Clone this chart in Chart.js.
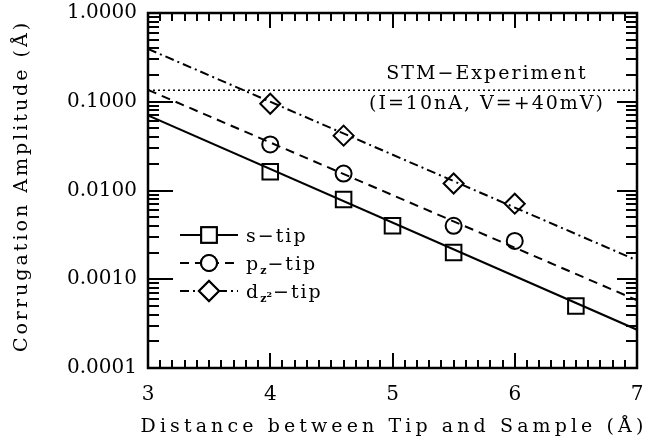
<!DOCTYPE html>
<html>
<head>
<meta charset="utf-8">
<script src="https://cdn.jsdelivr.net/npm/chart.js@4.4.0/dist/chart.umd.min.js"></script>
<style>
  html, body { margin: 0; background: #fff; }
  #wrap { width: 650px; height: 440px; }
</style>
</head>
<body>
<div id="wrap"><canvas id="chart"></canvas></div>
<script>
// measured points (distance in A, corrugation in A)
const sDist = [4.0, 4.6, 5.0, 5.5, 6.5];
const sAmp = [0.0163, 0.0079, 0.0040, 0.0020, 0.0005];
const pDist = [4.0, 4.6, 5.5, 6.0];
const pAmp = [0.033, 0.0155, 0.0040, 0.0027];
const dDist = [4.0, 4.6, 5.5, 6.0];
const dAmp = [0.095, 0.0415, 0.012, 0.0071];

// fitted lines, end points
const fitDist = [3, 7];
const sFit = [0.070, 0.00027];
const pFit = [0.136, 0.00058];
const dFit = [0.394, 0.00163];

const stmLevel = 0.135;
const stmText = ['STM\u2212Experiment', '(I=10nA, V=+40mV)'];

const xTicks = [3, 4, 5, 6, 7];
const yTicks = [0.0001, 0.001, 0.01, 0.1, 1];
const xTitle = 'Distance between Tip and Sample (\u00c5)';
const yTitle = 'Corrugation Amplitude (\u00c5)';

const FONT = "'DejaVu Serif', serif";

function pts(xs, ys) {
  return xs.map((x, i) => ({ x: x, y: ys[i] }));
}

// legend entries
const legendItems = [
  { base: 's', sub: '', sup: '', dash: [], style: 'rect', r: 11 },
  { base: 'p', sub: 'z', sup: '', dash: [9, 6], style: 'circle', r: 8 },
  { base: 'd', sub: 'z', sup: '2', dash: [9, 4, 2, 4], style: 'rectRot', r: 10 }
];

const framePlugin = {
  id: 'frame',
  afterDraw(chart) {
    const ctx = chart.ctx;
    const a = chart.chartArea;
    const xs = chart.scales.x, ys = chart.scales.y;
    const L = Math.round(a.left), R = Math.round(a.right);
    const T = Math.round(a.top), B = Math.round(a.bottom);
    ctx.save();
    ctx.setLineDash([]);
    ctx.globalAlpha = 1;
    ctx.fillStyle = '#000';
    // x ticks (major every 1, minor every 0.1), inward on bottom and top
    for (let i = 30; i <= 70; i++) {
      const px = Math.round(xs.getPixelForValue(i / 10));
      const len = (i % 10 === 0) ? 15 : 8;
      ctx.fillRect(px - 1, B - len, 2, len);
      ctx.fillRect(px - 1, T, 2, len);
    }
    // y ticks (log, major per decade), inward on left and right
    for (let e = -4; e <= 0; e++) {
      for (let m = 1; m <= 9; m++) {
        const v = m * Math.pow(10, e);
        if (v > 1.0001) break;
        const py = Math.round(ys.getPixelForValue(v));
        const lenL = m === 1 ? 25 : 11;
        const lenR = m === 1 ? 20 : 11;
        ctx.fillRect(L, py - 1, lenL, 2);
        ctx.fillRect(R - lenR, py - 1, lenR, 2);
      }
    }
    ctx.strokeStyle = '#000';
    ctx.lineWidth = 2.5;
    ctx.strokeRect(a.left, a.top, a.right - a.left, a.bottom - a.top);

    ctx.font = '19px ' + FONT;
    ctx.textAlign = 'center';
    ctx.textBaseline = 'middle';

    // axis titles
    ctx.letterSpacing = '4.1px';
    ctx.fillText(xTitle, 394, 427);
    ctx.save();
    ctx.translate(22, 186);
    ctx.rotate(-Math.PI / 2);
    ctx.letterSpacing = '3px';
    ctx.fillText(yTitle, 0, 0);
    ctx.restore();

    // STM annotation
    ctx.letterSpacing = '2px';
    const ly = ys.getPixelForValue(stmLevel);
    ctx.fillText(stmText[0], 487, ly - 16);
    ctx.fillText(stmText[1], 487, ly + 14);

    // legend
    const lx0 = 180, lx1 = 238, mx = 209;
    ctx.lineWidth = 2;
    legendItems.forEach((it, i) => {
      const y = 235 + i * 28;
      ctx.setLineDash(it.dash);
      ctx.beginPath();
      ctx.moveTo(lx0, y);
      ctx.lineTo(lx1, y);
      ctx.stroke();
      ctx.setLineDash([]);
      ctx.fillStyle = '#fff';
      Chart.helpers.drawPoint(ctx, { pointStyle: it.style, radius: it.r, borderWidth: 2 }, mx, y);
      ctx.fill();
      ctx.stroke();
      ctx.fillStyle = '#000';
      ctx.textAlign = 'left';
      ctx.textBaseline = 'alphabetic';
      ctx.letterSpacing = '2px';
      let tx = 246;
      const base = y + 7;
      ctx.font = '19px ' + FONT;
      ctx.fillText(it.base, tx, base);
      tx += ctx.measureText(it.base).width;
      if (it.sub) {
        ctx.font = 'bold 11px ' + FONT;
        ctx.letterSpacing = '0px';
        ctx.fillText(it.sub, tx, base + 4);
        tx += ctx.measureText(it.sub).width;
        if (it.sup) {
          ctx.font = 'bold 8px ' + FONT;
          ctx.fillText(it.sup, tx, base - 1);
          tx += ctx.measureText(it.sup).width;
        }
        tx += 1;
      }
      ctx.letterSpacing = '2px';
      ctx.font = '19px ' + FONT;
      ctx.fillText('\u2212tip', tx, base);
    });
    ctx.letterSpacing = '0px';
    ctx.restore();
  }
};

new Chart(document.getElementById('chart'), {
  type: 'scatter',
  data: {
    datasets: [
      {
        data: pts(fitDist, [stmLevel, stmLevel]),
        showLine: true, borderColor: '#000', borderWidth: 1.5,
        borderDash: [2, 3], pointRadius: 0
      },
      {
        data: pts(fitDist, sFit),
        showLine: true, borderColor: '#000', borderWidth: 2, pointRadius: 0
      },
      {
        data: pts(fitDist, pFit),
        showLine: true, borderColor: '#000', borderWidth: 2,
        borderDash: [9, 6], pointRadius: 0
      },
      {
        data: pts(fitDist, dFit),
        showLine: true, borderColor: '#000', borderWidth: 2,
        borderDash: [9, 4, 2, 4], pointRadius: 0
      },
      {
        data: pts(sDist, sAmp),
        pointStyle: 'rect', pointRadius: 11, pointBorderWidth: 2,
        pointBorderColor: '#000', pointBackgroundColor: '#fff'
      },
      {
        data: pts(pDist, pAmp),
        pointStyle: 'circle', pointRadius: 8, pointBorderWidth: 2,
        pointBorderColor: '#000', pointBackgroundColor: '#fff'
      },
      {
        data: pts(dDist, dAmp),
        pointStyle: 'rectRot', pointRadius: 10, pointBorderWidth: 2,
        pointBorderColor: '#000', pointBackgroundColor: '#fff'
      }
    ]
  },
  options: {
    responsive: true,
    maintainAspectRatio: false,
    animation: false,
    layout: { padding: { left: 0, right: 2, top: 11, bottom: 0 } },
    plugins: {
      legend: { display: false },
      tooltip: { enabled: false }
    },
    scales: {
      x: {
        type: 'linear', min: 3, max: 7,
        grid: { display: false, drawTicks: false },
        border: { display: false },
        afterBuildTicks: s => { s.ticks = xTicks.map(v => ({ value: v })); },
        afterFit: s => { s.height = 72; s.paddingLeft = 0; s.paddingRight = 0; },
        ticks: {
          color: '#000', padding: 15,
          font: { family: FONT, size: 20 },
          maxRotation: 0,
          callback: v => String(v)
        }
      },
      y: {
        type: 'logarithmic', min: 0.0001, max: 1,
        grid: { display: false, drawTicks: false },
        border: { display: false },
        afterBuildTicks: s => { s.ticks = yTicks.map(v => ({ value: v })); },
        afterFit: s => { s.width = 148; s.paddingTop = 0; s.paddingBottom = 0; },
        ticks: {
          color: '#000', padding: 11,
          font: { family: FONT, size: 20 },
          callback: v => Number(v).toFixed(4)
        }
      }
    }
  },
  plugins: [framePlugin]
});
</script>
</body>
</html>
